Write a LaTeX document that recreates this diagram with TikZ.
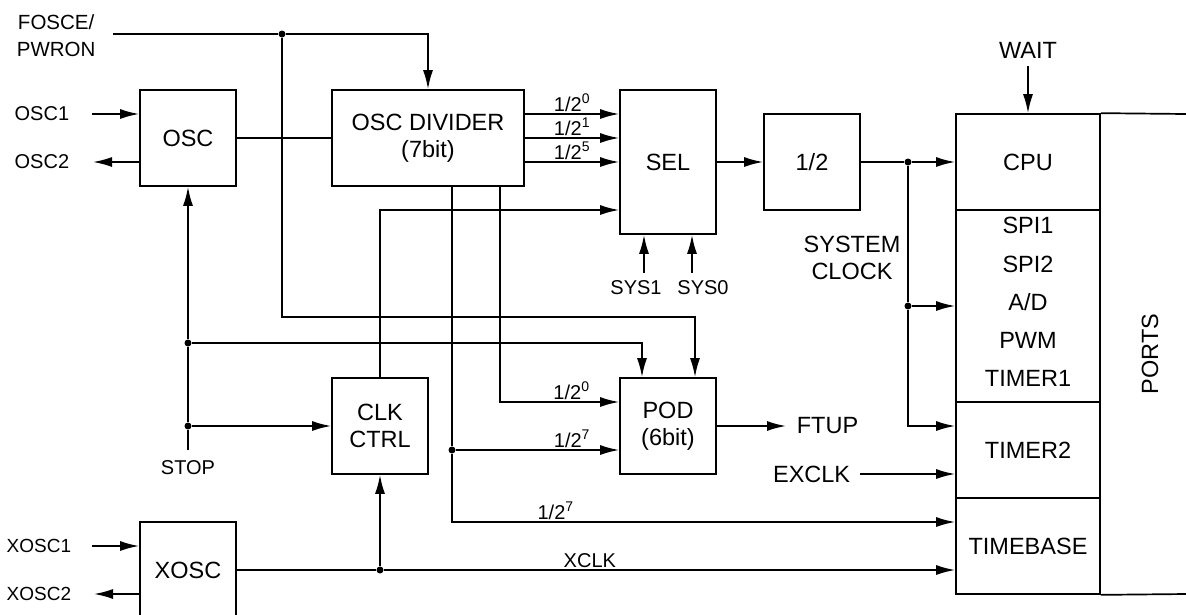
\documentclass[tikz,border=0pt]{standalone}
\usepackage{fontspec}
\setmainfont{Liberation Sans}
\usetikzlibrary{arrows.meta}
\newcommand\lbig{\fontsize{23.5}{27}\selectfont}
\newcommand\lsmall{\fontsize{20}{24}\selectfont}
\begin{document}
\begin{tikzpicture}[x=1pt,y=-1pt,line width=1.7pt,
  >={Latex[length=19pt,width=10pt]},
  blk/.style={draw,line width=1.7pt,inner sep=0pt,minimum width=96pt,minimum height=96pt,font=\lbig,align=center},
  lbl/.style={inner sep=1pt,font=\lsmall,align=center},
  big/.style={inner sep=1pt,font=\lbig,align=center},
  dot/.style={circle,fill,inner sep=0pt,minimum size=7pt},
  sup/.style={inner sep=1.5pt,font=\lsmall}]
\useasboundingbox (0,0) rectangle (1186,614);
\clip (0,0) rectangle (1186,614);
% blocks
\node[blk] (osc) at (188,138) {OSC};
\node[blk,minimum width=192pt] (div) at (428,138) {OSC DIVIDER\\(7bit)};
\node[blk,minimum height=144pt] (sel) at (668,162) {SEL};
\node[blk] (half) at (812,162) {1/2};
\node[blk,minimum width=144pt] (cpu) at (1028,162) {CPU};
\node[blk,minimum width=144pt,minimum height=192pt] (per) at (1028,306) {};
\node[blk,minimum width=144pt] (tim2) at (1028,450) {TIMER2};
\node[blk,minimum width=144pt] (tb) at (1028,546) {TIMEBASE};
\node[blk] (clk) at (380,426) {CLK\\CTRL};
\node[blk] (pod) at (668,426) {POD\\(6bit)};
\node[blk] (xosc) at (188,570) {XOSC};
% ports
\draw (cpu.north east) -- (1186,114);
\draw (tb.south east) -- (1186,594);
\node[big,rotate=90] (ports) at (1150,354) {PORTS};
% peripheral texts
\node[big] (spi1) at (1028,225) {SPI1};
\node[big] (spi2) at (1028,264) {SPI2};
\node[big] (ad) at (1028,302) {A/D};
\node[big] (pwm) at (1028,340) {PWM};
\node[big] (tim1) at (1028,378) {TIMER1};
% pin labels
\node[lbl,anchor=west,font=\fontsize{20.5}{27}\selectfont] (fosce) at (15,36) {FOSCE/\\PWRON};
\node[lbl,anchor=east] (osc1l) at (71,114) {OSC1};
\node[lbl,anchor=east] (osc2l) at (71,162) {OSC2};
\node[lbl,anchor=east,font=\fontsize{19}{22}\selectfont] (xosc1l) at (73,546) {XOSC1};
\node[lbl,anchor=east,font=\fontsize{19}{22}\selectfont] (xosc2l) at (73,594) {XOSC2};
\node[lbl] (stopl) at (188,468) {STOP};
\node[big] (waitl) at (1028,50) {WAIT};
\node[lbl] (sys1l) at (636,288) {SYS1};
\node[lbl] (sys0l) at (703,288) {SYS0};
\node[big] (sysclk) at (852,258) {SYSTEM\\CLOCK};
\node[big,anchor=west] (ftup) at (795,426) {FTUP};
\node[big,anchor=east] (exclk) at (852,474) {EXCLK};
% coordinates
\coordinate (fin) at (113,34);
\coordinate (osc1) at (92,114);
\coordinate (osc2) at (93,162);
\coordinate (xo1) at (92,546);
\coordinate (xo2) at (94,594);
\coordinate (r0) at (0,114);
\coordinate (r1) at (0,138);
\coordinate (r5) at (0,162);
\coordinate (rs) at (0,210);
\coordinate (c1) at (695,317);
\coordinate (c2) at (642,343);
\coordinate (d0) at (500,402);
\coordinate (t2in) at (0,426);
\coordinate (t7) at (0,522);
\coordinate (s1) at (644,273);
\coordinate (s0) at (692,273);
\coordinate (wait) at (1028,66);
\coordinate (stop) at (188,450);
\coordinate (ft) at (786,426);
\coordinate (exin) at (860,474);
% junctions
\node[dot] (j1) at (282,34) {};
\node[dot] (j2) at (908,162) {};
\node[dot] (j3) at (908,306) {};
\node[dot] (j4) at (188,426) {};
\node[dot] (j5) at (188,343) {};
\node[dot] (j6) at (452,450) {};
\node[dot] (j7) at (380,570) {};
% connectors
\draw (fin) -- (j1);
\draw[->] (j1) -| (div.north);
\draw[->] (j1) |- (c1) -- (c1 |- pod.north);
\draw[->] (osc1) -- (osc1 -| osc.west);
\draw[->] (osc.west |- osc2) -- (osc2);
\draw (osc.east) -- (div.west);
\draw[->] (div.east |- r0) -- node[sup,above,pos=0.5] {1/2\textsuperscript{0}} (sel.west |- r0);
\draw[->] (div.east |- r1) -- node[sup,above,pos=0.5] {1/2\textsuperscript{1}} (sel.west |- r1);
\draw[->] (div.east |- r5) -- node[sup,above,pos=0.5] {1/2\textsuperscript{5}} (sel.west |- r5);
\draw[->] (sel.east) -- (half.west);
\draw (half.east) -- (j2);
\draw[->] (j2) -- (cpu.west);
\draw (j2) -- (j3);
\draw[->] (j3) -- (per.west);
\draw[->] (j3) |- (tim2.west |- t2in);
\draw[->] (wait) -- (cpu.north);
\draw[->] (s1) -- (s1 |- sel.south);
\draw[->] (s0) -- (s0 |- sel.south);
\draw[->] (clk.north) |- (sel.west |- rs);
\draw (stop) -- (j4);
\draw[->] (j4) -- (clk.west);
\draw (j4) -- (j5);
\draw[->] (j5) -- (osc.south);
\draw[->] (j5) -- (c2) -- (c2 |- pod.north);
\draw[->] (div.south -| d0) |- node[sup,above,pos=0.8] {1/2\textsuperscript{0}} (pod.west |- d0);
\draw (div.south -| j6) -- (j6);
\draw[->] (j6) -- node[sup,above,pos=0.71] {1/2\textsuperscript{7}} (pod.west |- j6);
\draw[->] (j6) |- node[sup,above,pos=0.603] {1/2\textsuperscript{7}} (tb.west |- t7);
\draw (xosc.east) -- (j7);
\draw[->] (j7) -- (clk.south);
\draw[->] (j7) -- node[sup,above,pos=0.36] {XCLK} (tb.west |- j7);
\draw[->] (xo1) -- (xo1 -| xosc.west);
\draw[->] (xosc.west |- xo2) -- (xo2);
\draw[->] (pod.east) -- (ft);
\draw[->] (exin) -- (tim2.west |- exin);
\end{tikzpicture}
\end{document}
